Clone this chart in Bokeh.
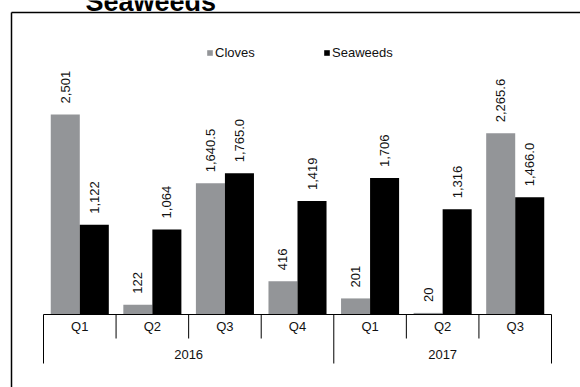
import math
from bokeh.plotting import figure
from bokeh.models import Range1d, ColumnDataSource, Legend, LegendItem, Label
from bokeh.transform import dodge
from bokeh.core.properties import value
from bokeh.embed import file_html
from bokeh.resources import INLINE

# ---------------- data ----------------
years = ["2016", "2017"]
year_sizes = [4, 3]
quarters = ["Q1", "Q2", "Q3", "Q4", "Q1", "Q2", "Q3"]
cloves = [2501, 122, 1640.5, 416, 201, 20, 2265.6]
seaweeds = [1122, 1064, 1765.0, 1419, 1706, 1316, 1466.0]
cloves_labels = ["2,501", "122", "1,640.5", "416", "201", "20", "2,265.6"]
seaweeds_labels = ["1,122", "1,064", "1,765.0", "1,419", "1,706", "1,316", "1,466.0"]
series_names = ["Cloves", "Seaweeds"]
title_text = "Seaweeds"

# ---------------- layout ----------------
W, H = 580, 387
PLOT_L, PLOT_R = 43, 551          # px of category axis ends
BASE = 314                        # px of baseline (from top)
PX_PER_UNIT = 0.08                # vertical px per data unit
n = len(quarters)
sx = (PLOT_R - PLOT_L) / n
x_start = -PLOT_L / sx
x_end = n + (W - PLOT_R) / sx
y_start = -(H - BASE) / PX_PER_UNIT
y_end = BASE / PX_PER_UNIT

def X(px):
    return x_start + px / sx

def Y(py):
    return y_end - py / PX_PER_UNIT

FONT = "Liberation Sans"
GRAY = "#939598"
BLACK = "#000000"
TXT = "#111111"

p = figure(width=W, height=H, output_backend="svg", toolbar_location=None,
           x_range=Range1d(x_start, x_end), y_range=Range1d(y_start, y_end),
           min_border=0, min_border_left=0, min_border_right=0,
           min_border_top=0, min_border_bottom=0)
p.axis.visible = False
p.grid.visible = False
p.outline_line_color = None
p.background_fill_color = "white"
p.border_fill_color = "white"

src = ColumnDataSource(dict(
    x=[i + 0.5 for i in range(n)],
    cloves=cloves, seaweeds=seaweeds,
    cl=cloves_labels, sl=seaweeds_labels,
))

BW = 0.4
r1 = p.vbar(x=dodge("x", -BW / 2, range=p.x_range), top="cloves", bottom=0, width=BW,
            source=src, fill_color=GRAY, line_color=None)
r2 = p.vbar(x=dodge("x", BW / 2, range=p.x_range), top="seaweeds", bottom=0, width=BW,
            source=src, fill_color=BLACK, line_color=None)

common = dict(angle=math.pi / 2, text_align="left", text_baseline="middle",
              y_offset=-11, text_font=value(FONT), text_font_size="13px",
              text_color=TXT, source=src)
p.text(x=dodge("x", -BW / 2, range=p.x_range), y="cloves", text="cl", **common)
p.text(x=dodge("x", BW / 2, range=p.x_range), y="seaweeds", text="sl", **common)

# ---------------- category axis (Excel style) ----------------
tick_short = (338 - BASE) / PX_PER_UNIT
tick_long = (363 - BASE) / PX_PER_UNIT
p.segment(x0=[0], y0=[0], x1=[n], y1=[0], line_color="black", line_width=1)
bounds = [0]
for s in year_sizes:
    bounds.append(bounds[-1] + s)
bx0, by1 = [], []
for i in range(n + 1):
    bx0.append(i)
    by1.append(-tick_long if i in bounds else -tick_short)
p.segment(x0=bx0, y0=[0] * len(bx0), x1=bx0, y1=by1, line_color="black", line_width=1)

qsrc = ColumnDataSource(dict(x=[i + 0.5 for i in range(n)], y=[Y(326)] * n, t=quarters))
p.text(x="x", y="y", text="t", source=qsrc, text_align="center", text_baseline="middle",
       text_font=value(FONT), text_font_size="13px", text_color=TXT)
ycent = [(bounds[i] + bounds[i + 1]) / 2 for i in range(len(years))]
ysrc = ColumnDataSource(dict(x=ycent, y=[Y(354)] * len(years), t=years))
p.text(x="x", y="y", text="t", source=ysrc, text_align="center", text_baseline="middle",
       text_font=value(FONT), text_font_size="13px", text_color=TXT)

# ---------------- chart frame and title ----------------
p.segment(x0=[X(11), X(11)], y0=[Y(12), Y(12)], x1=[X(11), X(W + 5)], y1=[Y(H + 5), Y(12)],
          line_color="black", line_width=1.5)
p.add_layout(Label(x=X(85), y=Y(1), text=title_text, text_font=FONT,
                   text_font_size="27px", text_font_style="bold",
                   text_baseline="alphabetic", text_align="left", text_color="black"))

# ---------------- legend ----------------
legend = Legend(items=[LegendItem(label=series_names[0], renderers=[r1]),
                       LegendItem(label=series_names[1], renderers=[r2])],
                orientation="horizontal", location=(206, H - 60),
                glyph_width=7, glyph_height=7, label_standoff=2, label_width=108,
                label_height=14, spacing=0, padding=0, margin=0,
                border_line_color=None, background_fill_alpha=0,
                label_text_font=FONT, label_text_font_size="13px",
                label_text_color=TXT)
p.add_layout(legend, "center")

open("out.html", "w").write(file_html(p, INLINE))
